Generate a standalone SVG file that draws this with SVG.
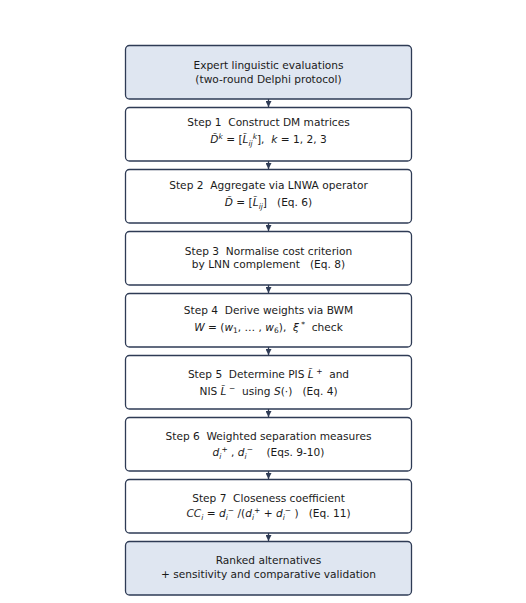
<svg xmlns="http://www.w3.org/2000/svg" width="526" height="603" viewBox="0 0 526 603">
<style>
.box{fill:#ffffff;stroke:#2e3b55;stroke-width:1.3}
.term{fill:#dfe6f1;stroke:#2e3b55;stroke-width:1.3}
text{font-family:"DejaVu Sans","Liberation Sans",sans-serif;font-size:10.6px;fill:#1a1a1a;text-anchor:middle;white-space:pre}
.i{font-style:italic}
.s{font-size:7.5px}
.edge{stroke:#2e3b55;stroke-width:1.3;fill:none}
</style>
<defs>
<marker id="ah" markerWidth="6" markerHeight="6" refX="6" refY="3" orient="auto" markerUnits="userSpaceOnUse">
<path d="M0,0 L6,3 L0,6 Z" fill="#2e3b55"/>
</marker>
</defs>
<rect width="526" height="603" fill="#ffffff"/>
<g id="connectors">
<path class="edge" d="M268.5,99 V107" marker-end="url(#ah)"/>
<path class="edge" d="M268.5,161 V169" marker-end="url(#ah)"/>
<path class="edge" d="M268.5,223 V231" marker-end="url(#ah)"/>
<path class="edge" d="M268.5,285 V293" marker-end="url(#ah)"/>
<path class="edge" d="M268.5,347 V355" marker-end="url(#ah)"/>
<path class="edge" d="M268.5,409 V417" marker-end="url(#ah)"/>
<path class="edge" d="M268.5,471 V479" marker-end="url(#ah)"/>
<path class="edge" d="M268.5,533 V541" marker-end="url(#ah)"/>
</g>
<g id="n0">
<rect class="term" x="125.5" y="45.5" width="286" height="53.5" rx="4"/>
<text x="268.5" y="69">Expert linguistic evaluations</text>
<text x="268.5" y="83">(two-round Delphi protocol)</text>
</g>
<g id="n1">
<rect class="box" x="125.5" y="107.5" width="286" height="53.5" rx="4"/>
<text x="268.5" y="126">Step 1  Construct DM matrices</text>
<text x="268.5" y="143"><tspan class="i">D̃</tspan><tspan class="i s" dy="-4">k</tspan><tspan dy="4"> = [</tspan><tspan class="i">L̃</tspan><tspan class="i s" dy="2.5">ij</tspan><tspan class="i s" dy="-7">k</tspan><tspan dy="4.5">],  </tspan><tspan class="i">k</tspan> = 1, 2, 3</text>
</g>
<g id="n2">
<rect class="box" x="125.5" y="169.5" width="286" height="53.5" rx="4"/>
<text x="268.5" y="189">Step 2  Aggregate via LNWA operator</text>
<text x="268.5" y="206"><tspan class="i">D̃</tspan> = [<tspan class="i">L̃</tspan><tspan class="i s" dy="2.5">ij</tspan><tspan dy="-2.5">]   (Eq. 6)</tspan></text>
</g>
<g id="n3">
<rect class="box" x="125.5" y="231.5" width="286" height="53.5" rx="4"/>
<text x="268.5" y="254.5">Step 3  Normalise cost criterion</text>
<text x="268.5" y="267.5">by LNN complement   (Eq. 8)</text>
</g>
<g id="n4">
<rect class="box" x="125.5" y="293.5" width="286" height="53.5" rx="4"/>
<text x="268.5" y="314">Step 4  Derive weights via BWM</text>
<text x="268.5" y="330.5"><tspan class="i">W</tspan> = (<tspan class="i">w</tspan><tspan class="s" dy="2">1</tspan><tspan dy="-2">, … , </tspan><tspan class="i">w</tspan><tspan class="s" dy="2">6</tspan><tspan dy="-2">),  </tspan><tspan class="i">ξ</tspan><tspan class="s" dy="-4"> *</tspan><tspan dy="4">  check</tspan></text>
</g>
<g id="n5">
<rect class="box" x="125.5" y="355.5" width="286" height="53.5" rx="4"/>
<text x="268.5" y="377.5">Step 5  Determine PIS <tspan class="i">L̃</tspan><tspan class="s" dy="-4"> +</tspan><tspan dy="4">  and</tspan></text>
<text x="268.5" y="394.5">NIS <tspan class="i">L̃</tspan><tspan class="s" dy="-4"> −</tspan><tspan dy="4">  using </tspan><tspan class="i">S</tspan>(·)   (Eq. 4)</text>
</g>
<g id="n6">
<rect class="box" x="125.5" y="417.5" width="286" height="53.5" rx="4"/>
<text x="268.5" y="440">Step 6  Weighted separation measures</text>
<text x="268.5" y="456"><tspan class="i">d</tspan><tspan class="i s" dy="2.5">i</tspan><tspan class="s" dy="-6.5">+</tspan><tspan dy="4"> , </tspan><tspan class="i">d</tspan><tspan class="i s" dy="2.5">i</tspan><tspan class="s" dy="-6.5">−</tspan><tspan dy="4">    (Eqs. 9-10)</tspan></text>
</g>
<g id="n7">
<rect class="box" x="125.5" y="479.5" width="286" height="53.5" rx="4"/>
<text x="268.5" y="501.5">Step 7  Closeness coefficient</text>
<text x="268.5" y="517"><tspan class="i">CC</tspan><tspan class="i s" dy="2.5">i</tspan><tspan dy="-2.5"> = </tspan><tspan class="i">d</tspan><tspan class="i s" dy="2.5">i</tspan><tspan class="s" dy="-6.5">−</tspan><tspan dy="4"> /(</tspan><tspan class="i">d</tspan><tspan class="i s" dy="2.5">i</tspan><tspan class="s" dy="-6.5">+</tspan><tspan dy="4"> + </tspan><tspan class="i">d</tspan><tspan class="i s" dy="2.5">i</tspan><tspan class="s" dy="-6.5">−</tspan><tspan dy="4"> )   (Eq. 11)</tspan></text>
</g>
<g id="n8">
<rect class="term" x="125.5" y="541.5" width="286" height="53.5" rx="4"/>
<text x="268.5" y="563.5">Ranked alternatives</text>
<text x="268.5" y="577.5">+ sensitivity and comparative validation</text>
</g>
</svg>
